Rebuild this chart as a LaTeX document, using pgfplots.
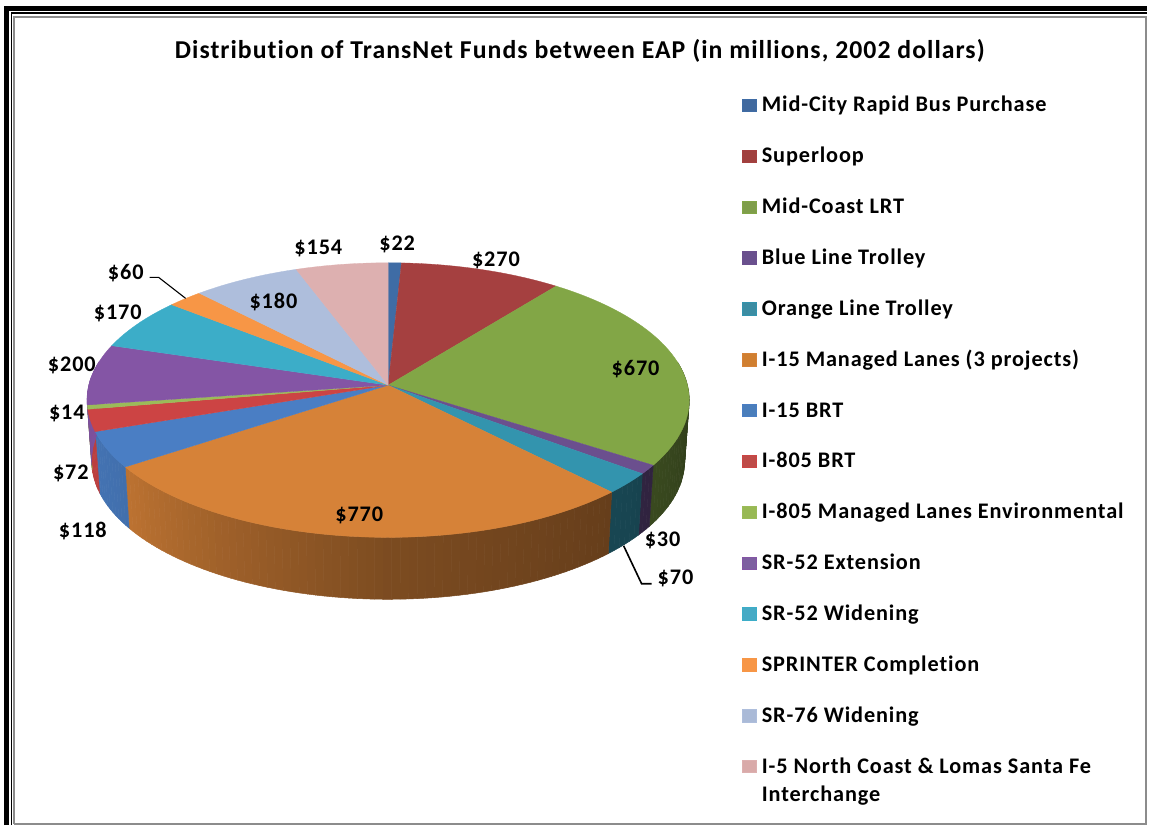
\documentclass[border=0pt]{standalone}
\usepackage{fontspec}
\setmainfont{Carlito}[LetterSpace=4,Ligatures=NoCommon]
\usepackage{pgfplots}
\usepackage{pgfplotstable}
\pgfplotsset{compat=1.18}

% top-face colours
\definecolor{c0}{RGB}{63,108,165}\definecolor{c1}{RGB}{165,64,64}\definecolor{c2}{RGB}{130,166,70}
\definecolor{c3}{RGB}{107,79,142}\definecolor{c4}{RGB}{51,148,174}\definecolor{c5}{RGB}{214,130,56}
\definecolor{c6}{RGB}{74,126,196}\definecolor{c7}{RGB}{204,68,68}\definecolor{c8}{RGB}{155,187,89}
\definecolor{c9}{RGB}{132,85,165}\definecolor{c10}{RGB}{60,173,200}\definecolor{c11}{RGB}{247,150,70}
\definecolor{c12}{RGB}{174,190,220}\definecolor{c13}{RGB}{221,176,176}
% legend colours
\definecolor{l0}{RGB}{65,105,158}\definecolor{l1}{RGB}{160,64,62}\definecolor{l2}{RGB}{127,158,74}
\definecolor{l3}{RGB}{105,80,141}\definecolor{l4}{RGB}{60,141,163}\definecolor{l5}{RGB}{208,127,48}
\definecolor{l6}{RGB}{74,126,187}\definecolor{l7}{RGB}{190,75,72}\definecolor{l8}{RGB}{152,185,84}
\definecolor{l9}{RGB}{125,95,160}\definecolor{l10}{RGB}{70,170,197}\definecolor{l11}{RGB}{247,150,70}
\definecolor{l12}{RGB}{170,186,215}\definecolor{l13}{RGB}{217,170,169}

\protected\def\lastname{\parbox[t]{380pt}{\fontsize{22.3}{28}\selectfont\bfseries I-5 North Coast \& Lomas Santa Fe\\Interchange}}

\pgfplotstableread[col sep=comma]{
value,name
22,Mid-City Rapid Bus Purchase
270,Superloop
670,Mid-Coast LRT
30,Blue Line Trolley
70,Orange Line Trolley
770,I-15 Managed Lanes (3 projects)
118,I-15 BRT
72,I-805 BRT
14,I-805 Managed Lanes Environmental
200,SR-52 Extension
170,SR-52 Widening
60,SPRINTER Completion
180,SR-76 Widening
154,\lastname
}\slices

\pgfplotstableread{
x y v
398 243 22
497 259 270
637 368 670
664 540 30
677 578 70
360 515 770
83 530 118
71 472 72
67 412 14
72 364 200
118 312 170
126 272 60
274 301 180
319 247 154
}\labels

% pie rim in picture pixels, t clockwise from the top
\newcommand\rim[1]{%
  \pgfmathsetmacro\uu{sin(#1)}%
  \pgfmathsetmacro\vv{-cos(#1)}%
  \pgfmathsetmacro\dd{1-0.1087*\vv}%
  \pgfmathsetmacro\px{389+300*\uu/\dd}%
  \pgfmathsetmacro\py{386+136*\vv/\dd}%
  \pgfmathsetmacro\qx{389+(\px-389)*0.985}%
  \pgfmathsetmacro\qy{\py+60.5+1.5*max(\vv,0)}%
}
\newcommand\sideshade[1]{%
  \pgfmathsetmacro\ff{#1<100?38:(#1<130?38+8*(#1-100)/30:(#1<180?46+12*(#1-130)/50:(#1<235?58+30*(#1-180)/55:(#1<270?88+7*(#1-235)/35:95))))}%
}
\def\total{2800}

\begin{document}
\begin{tikzpicture}
\begin{axis}[
  width=1149pt,height=827pt,scale only axis,
  xmin=0,xmax=1149,ymin=0,ymax=827,y dir=reverse,
  hide axis,clip=false,no markers,
  legend image code/.code={\fill[#1] (0pt,-4pt) rectangle (14pt,8.5pt);},
  legend cell align=left,
  legend style={at={(axis cs:743,97)},anchor=north west,draw=none,fill=none,
    inner sep=0pt,row sep=29.97pt,
    /tikz/column 1/.style={column sep=6pt},
    font=\fontsize{22.3}{24}\selectfont\bfseries,
    nodes={inner sep=0pt,text height=15pt,text depth=6pt}},
]
% page extent
\path (axis cs:0,0) rectangle (axis cs:1149,827);
% frame
\addplot[forget plot,black,line width=5pt] coordinates {(6.5,827) (6.5,9) (1149,9)};
\addplot[forget plot,black,line width=1.2pt] coordinates {(11.5,827) (11.5,13) (1149,13)};
\addplot[forget plot,black!45,line width=2pt] coordinates {(14.5,825.5) (14.5,17) (1148,17) (1148,825.5) (14.5,825.5)};

% side of the pie, narrow panels so the shading can change along the rim
\xdef\cum{0}
\foreach \i in {0,...,13}{%
  \pgfplotstablegetelem{\i}{value}\of\slices
  \pgfmathsetmacro\ta{\cum/\total*360}%
  \pgfmathsetmacro\tb{(\cum+\pgfplotsretval)/\total*360}%
  \pgfmathsetmacro\newcum{\cum+\pgfplotsretval}%
  \xdef\cum{\newcum}%
  \pgfmathsetmacro\sa{max(\ta,80)}%
  \pgfmathsetmacro\sb{min(\tb,280)}%
  \pgfmathtruncatemacro\hasside{\sb>\sa?1:0}%
  \ifnum\hasside=1
    \pgfmathtruncatemacro\nn{max(1,ceil((\sb-\sa)/1.5))}%
    \foreach \k in {1,...,\nn}{%
      \pgfmathsetmacro\tp{\sa+(\k-1)*(\sb-\sa)/\nn}%
      \pgfmathsetmacro\tq{\sa+\k*(\sb-\sa)/\nn}%
      \pgfmathsetmacro\tm{(\tp+\tq)/2}%
      \sideshade{\tm}%
      \rim{\tp}\let\xa\px\let\ya\py\let\xd\qx\let\yd\qy
      \rim{\tq}\let\xb\px\let\yb\py\let\xc\qx\let\yc\qy
      \edef\temp{\noexpand\addplot[forget plot,fill=c\i!\ff!black,draw=c\i!\ff!black,line width=0.5pt]
        coordinates {(\xa,\ya) (\xb,\yb) (\xc,\yc) (\xd,\yd) (\xa,\ya)};}%
      \temp
    }%
  \fi
}

% top of the pie, carries the legend
\xdef\cum{0}
\foreach \i in {0,...,13}{%
  \pgfplotstablegetelem{\i}{value}\of\slices
  \pgfmathsetmacro\ta{\cum/\total*360}%
  \pgfmathsetmacro\tb{(\cum+\pgfplotsretval)/\total*360}%
  \pgfmathsetmacro\newcum{\cum+\pgfplotsretval}%
  \xdef\cum{\newcum}%
  \pgfmathtruncatemacro\nn{max(1,ceil((\tb-\ta)/2))}%
  \xdef\pts{(389,386)}%
  \foreach \k in {0,...,\nn}{%
    \pgfmathsetmacro\tp{\ta+\k*(\tb-\ta)/\nn}%
    \rim{\tp}%
    \xdef\pts{\pts\space(\px,\py)}%
  }%
  \edef\temp{\noexpand\addplot[fill=c\i,draw=c\i,line width=0.3pt,legend image post style={fill=l\i,draw=none}]
    coordinates {\pts\space(389,386)};}%
  \temp
  \pgfplotstablegetelem{\i}{name}\of\slices
  \addlegendentryexpanded{\pgfplotsretval}%
}

% leader lines
\addplot[forget plot,black,line width=1.1pt] coordinates {(150,278) (159,278) (186,299)};
\addplot[forget plot,black,line width=1.6pt] coordinates {(625,547) (643,585) (653,585)};

% value labels
\addplot[forget plot,draw=none,point meta=explicit symbolic,
  nodes near coords={\$\pgfplotspointmeta},
  nodes near coords style={anchor=center,inner sep=0pt,yshift=-2pt,font=\fontsize{22.3}{24}\selectfont\bfseries,text=black}]
  table[x=x,y=y,meta=v] {\labels};

\node[font=\fontsize{25.8}{28}\selectfont\bfseries,anchor=center] at (axis cs:581,51)
  {Distribution of TransNet Funds between EAP (in millions, 2002 dollars)};
\end{axis}
\end{tikzpicture}
\end{document}
